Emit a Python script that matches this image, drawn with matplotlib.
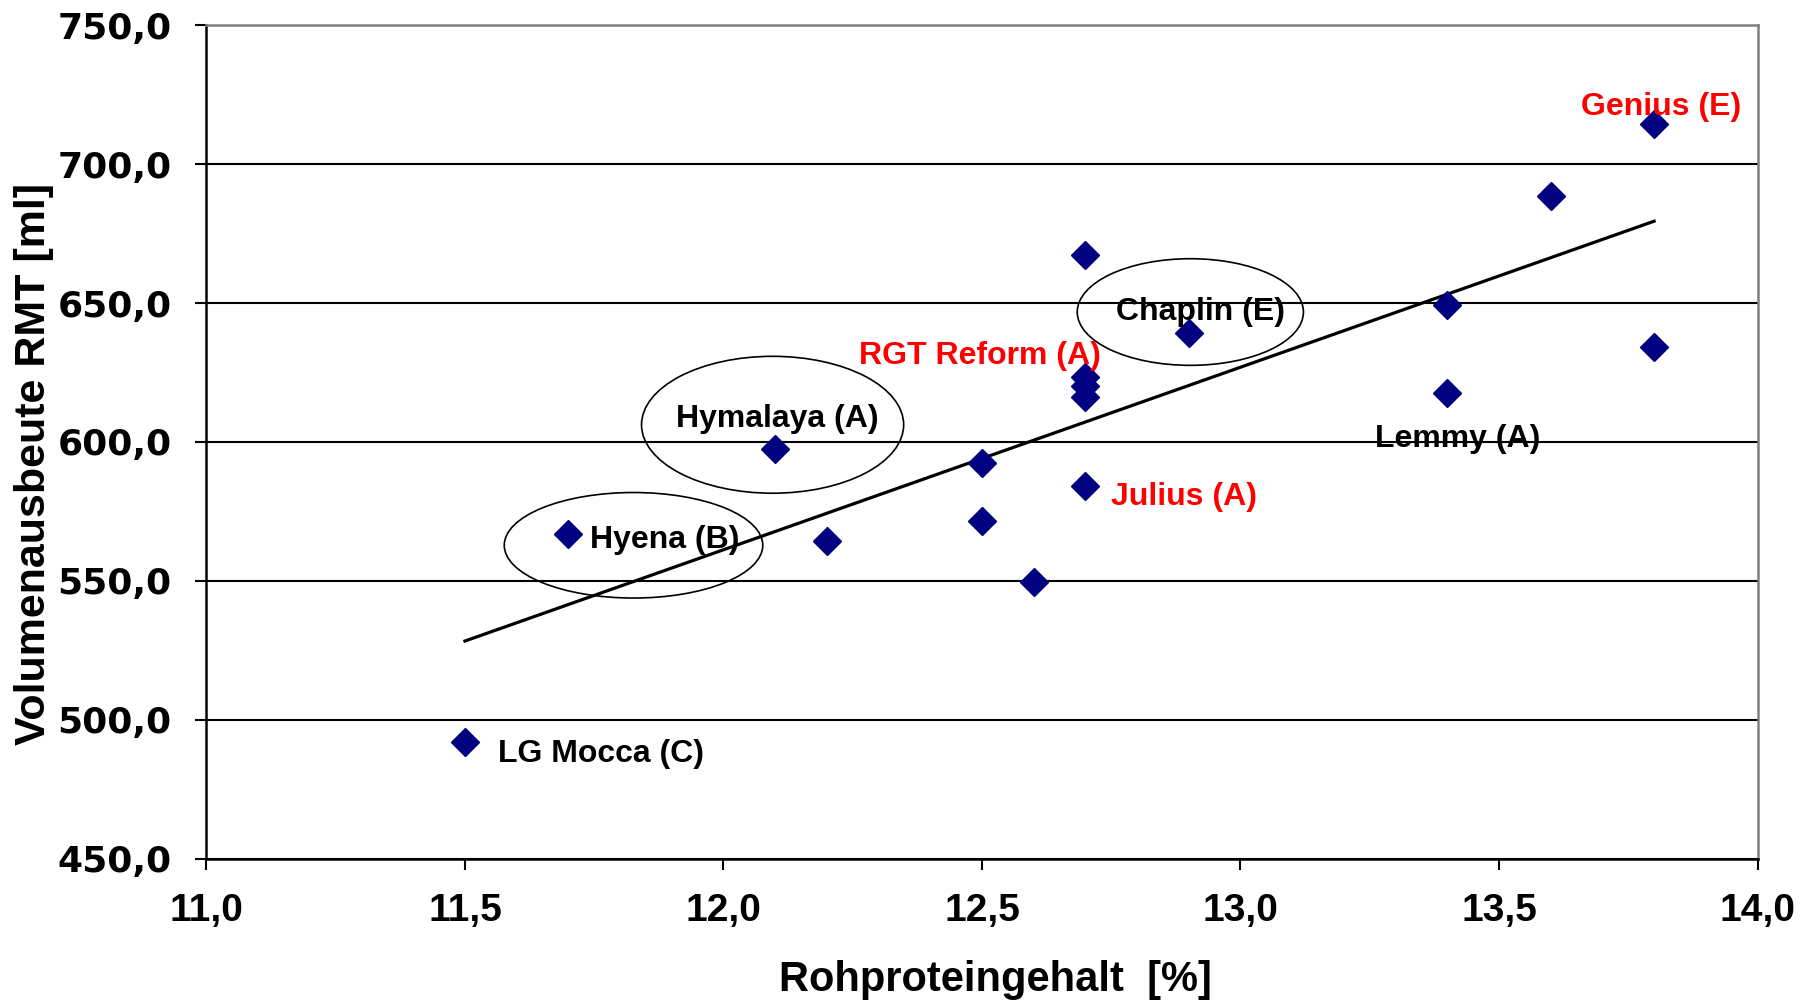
"""
Volumenausbeute RMT vs. Rohproteingehalt - scatter with trendline
"""

import matplotlib
matplotlib.use("Agg")
import matplotlib.pyplot as plt
from matplotlib.patches import Ellipse
from matplotlib.ticker import FuncFormatter
import numpy as np

# protein content [%] and volume yield [ml]
protein = [11.5, 11.7, 12.1, 12.2, 12.5, 12.5, 12.6, 12.7, 12.7, 12.7,
           12.7, 12.7, 12.9, 13.4, 13.4, 13.6, 13.8, 13.8]
volume = [491.8, 567.0, 597.5, 564.5, 592.5, 571.6, 549.4, 667.3, 623.4, 620.0,
          616.3, 584.1, 639.3, 649.3, 617.5, 688.6, 714.5, 634.2]

# variety labels: text, x, y, colour
label_text = ["Genius (E)", "RGT Reform (A)", "Chaplin (E)", "Lemmy (A)",
              "Julius (A)", "Hymalaya (A)", "Hyena (B)", "LG Mocca (C)"]
label_x = [13.814, 12.497, 12.923, 13.421, 12.891, 12.104, 11.886, 11.763]
label_y = [720.7, 630.9, 646.7, 601.2, 580.3, 608.3, 564.8, 487.5]
label_color = ["red", "red", "black", "black", "red", "black", "black", "black"]

# ellipses around highlighted varieties: center x, center y, width, height
ell_x = [12.095, 11.826, 12.903]
ell_y = [606.2, 562.8, 646.8]
ell_w = [0.507, 0.500, 0.4375]
ell_h = [49.3, 38.0, 38.4]

x_ticks = [11.0, 11.5, 12.0, 12.5, 13.0, 13.5, 14.0]
y_ticks = [450, 500, 550, 600, 650, 700, 750]


def comma(v, pos):
    return f"{v:.1f}".replace(".", ",")


fig = plt.figure(figsize=(18.19, 10.02), dpi=100)
ax = fig.add_axes([0.1135, 0.1432, 0.8527, 0.8314])

ax.set_xlim(11, 14)
ax.set_ylim(450, 750)
ax.set_xticks(x_ticks)
ax.set_yticks(y_ticks)
ax.xaxis.set_major_formatter(FuncFormatter(comma))
ax.yaxis.set_major_formatter(FuncFormatter(comma))

ax.grid(axis="y", color="black", linewidth=1.5)
ax.set_axisbelow(True)

# linear trendline
slope, icpt = np.polyfit(protein, volume, 1)
tx = np.array([min(protein), max(protein)])
ax.plot(tx, slope * tx + icpt, color="black", linewidth=2.3, zorder=3)

ax.plot(protein, volume, linestyle="none", marker="D", markersize=14,
        color="#000080", zorder=4)

for cx, cy, w, h in zip(ell_x, ell_y, ell_w, ell_h):
    ax.add_patch(Ellipse((cx, cy), w, h, fill=False, edgecolor="black",
                         linewidth=1.2, zorder=5))

for t, lx, ly, c in zip(label_text, label_x, label_y, label_color):
    ax.text(lx, ly, t, color=c, fontsize=23, fontweight="bold",
            family="Liberation Sans", ha="center", va="center", zorder=6)

for s in ["left", "bottom"]:
    ax.spines[s].set_color("black")
    ax.spines[s].set_linewidth(1.8)
for s in ["top", "right"]:
    ax.spines[s].set_color("#808080")
    ax.spines[s].set_linewidth(1.8)

ax.tick_params(axis="y", direction="out", length=8, width=1.5, pad=17)
ax.tick_params(axis="x", direction="out", length=8, width=1.5, pad=17)
for lab in ax.get_yticklabels():
    lab.set_fontfamily("DejaVu Sans")
    lab.set_fontweight("bold")
    lab.set_fontsize(26)
for lab in ax.get_xticklabels():
    lab.set_fontfamily("Liberation Sans")
    lab.set_fontweight("bold")
    lab.set_fontsize(28)

fig.text(0.547, 0.022, "Rohproteingehalt  [%]", fontsize=30,
         fontweight="bold", family="Liberation Sans", ha="center", va="center")
fig.text(0.0187, 0.537, "Volumenausbeute RMT [ml]", fontsize=31,
         fontweight="bold", family="Liberation Sans", rotation=90,
         ha="center", va="center")

fig.savefig("out.png", dpi=100)
